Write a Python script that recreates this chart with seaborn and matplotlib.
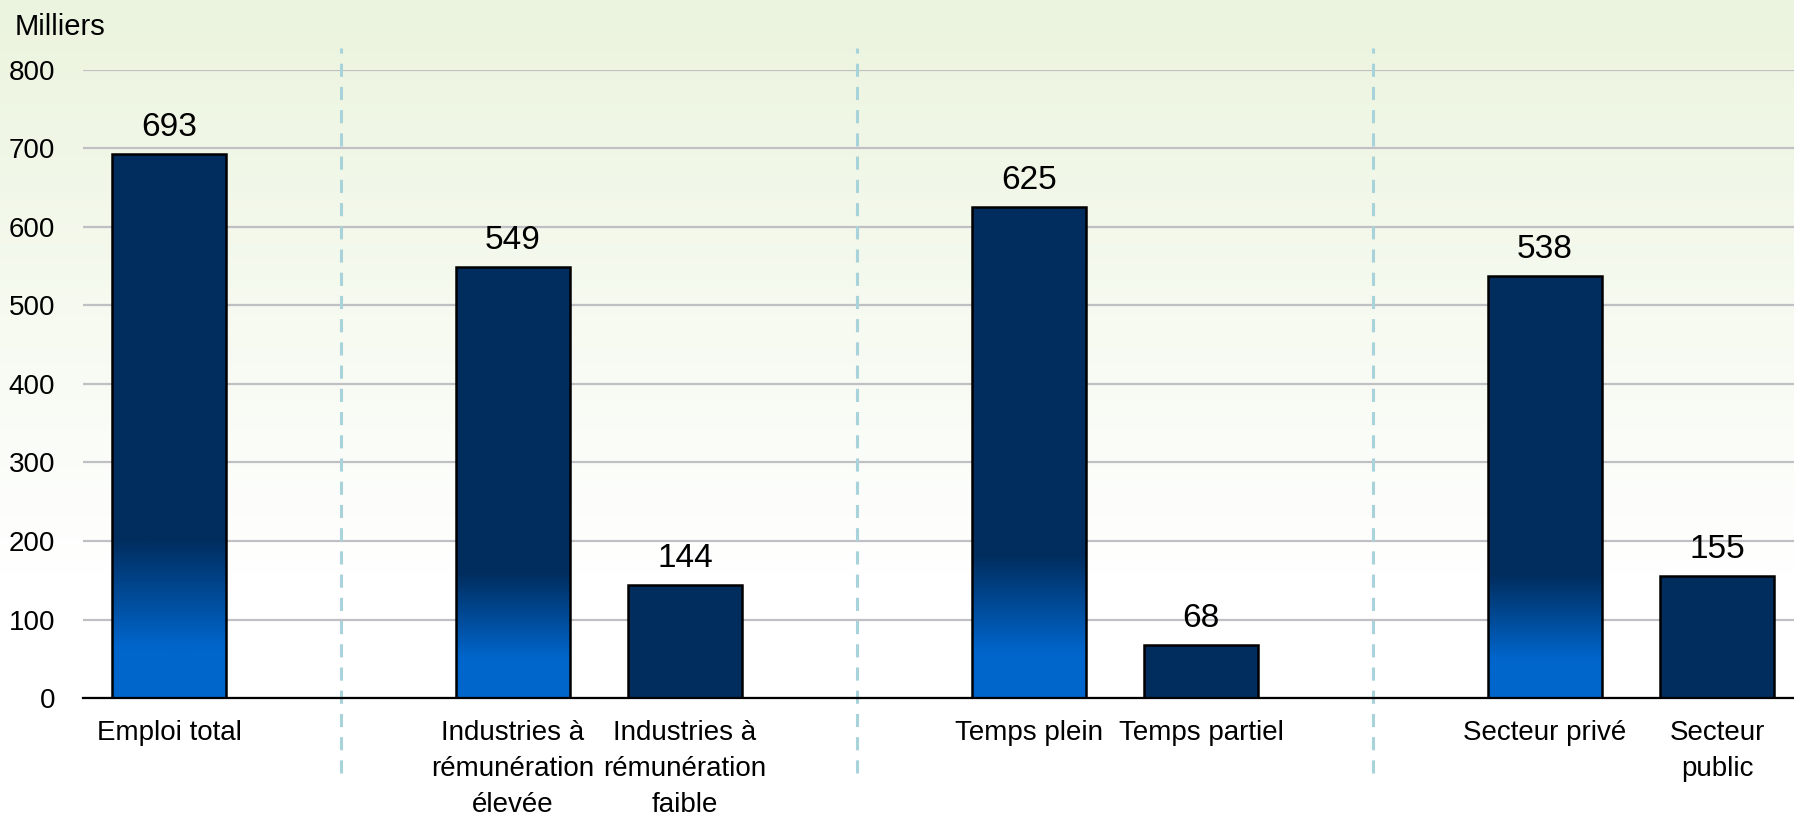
import numpy as np
import pandas as pd
import matplotlib
matplotlib.use("Agg")
import matplotlib.pyplot as plt
import seaborn as sns
from matplotlib.colors import LinearSegmentedColormap, to_rgb

# ---------------- data ----------------
categories = [
    "Emploi total",
    "Industries à\nrémunération\nélevée",
    "Industries à\nrémunération\nfaible",
    "Temps plein",
    "Temps partiel",
    "Secteur privé",
    "Secteur\npublic",
]
values = [693, 549, 144, 625, 68, 538, 155]
y_ticks = [0, 100, 200, 300, 400, 500, 600, 700, 800]
y_unit = "Milliers"

# group separators (empty category slots)
separators = ["sep1", "sep2", "sep3"]
order = [categories[0], separators[0], categories[1], categories[2], separators[1],
         categories[3], categories[4], separators[2], categories[5], categories[6]]

# style: which bars get the blue gradient at the bottom
gradient_flags = [True, True, False, True, False, True, False]

# ---------------- style ----------------
sns.set_theme(style="white")
plt.rcParams["font.family"] = ["Liberation Sans", "DejaVu Sans"]

NAVY = "#002D5E"
BLUE = "#0066CC"

fig = plt.figure(figsize=(17.94, 8.19), dpi=100)

# background gradient (light green top -> white)
bg = fig.add_axes([0, 0, 1, 1], zorder=-10)
top_c = np.array(to_rgb("#EBF4DE"))
white = np.array([1.0, 1.0, 1.0])
n = 400
t = np.linspace(0, 1, n)  # 0 = top, 1 = bottom
frac = np.clip(t / 0.7, 0, 1)
grad = (top_c[None, :] * (1 - frac[:, None]) + white[None, :] * frac[:, None])
bg.imshow(grad[:, None, :], aspect="auto", extent=[0, 1, 0, 1], origin="upper")
bg.set_axis_off()

ax = fig.add_axes([83 / 1794, 1 - 698 / 819, (1803 - 83) / 1794, (698 - 70) / 819])
ax.patch.set_alpha(0)

df = pd.DataFrame({"cat": categories, "val": values})
sns.barplot(data=df, x="cat", y="val", order=order, color=NAVY, saturation=1,
            width=0.667, edgecolor="black", linewidth=1.8, ax=ax)

ax.set_ylim(0, 800)
ax.set_xlim(-0.5, len(order) - 0.5)
ax.set_yticks(y_ticks)
ax.set_yticklabels([str(v) for v in y_ticks], fontsize=20, color="black")
ax.set_xticks(range(len(order)))
ax.set_xticklabels(["" if o in separators else o for o in order],
                   fontsize=20, color="black", linespacing=1.5)
ax.tick_params(axis="x", length=0, pad=16)
ax.tick_params(axis="y", length=0, pad=20)
ax.set_xlabel("")
ax.set_ylabel("")

ax.set_axisbelow(True)
ax.yaxis.grid(True, color="#C0C0C4", linewidth=1.6)
ax.xaxis.grid(False)
for s in ["top", "right", "left"]:
    ax.spines[s].set_visible(False)
ax.spines["bottom"].set_color("black")
ax.spines["bottom"].set_linewidth(1.6)
ax.spines["bottom"].set_zorder(3)

# gradient fill on selected bars
cmap = LinearSegmentedColormap.from_list(
    "bargrad", [(0.0, BLUE), (0.09, BLUE), (0.29, NAVY), (1.0, NAVY)])
patches = [p for p in ax.patches if p.get_height() > 0]
patches.sort(key=lambda p: p.get_x())
for p, flag in zip(patches, gradient_flags):
    if not flag:
        continue
    x0, w, h = p.get_x(), p.get_width(), p.get_height()
    arr = cmap(np.linspace(0, 1, 256))[:, None, :3]
    im = ax.imshow(arr, aspect="auto", origin="lower",
                   extent=[x0, x0 + w, 0, h], zorder=p.get_zorder() - 0.01,
                   interpolation="bilinear")
    im.set_clip_path(p)
    p.set_facecolor("none")

ax.set_xlim(-0.5, len(order) - 0.5)
ax.set_ylim(0, 800)

# value labels
for container in ax.containers:
    ax.bar_label(container, labels=[str(v) for v in values], padding=8,
                 fontsize=24, color="black")

# dashed separators
for s in separators:
    xi = order.index(s)
    ax.plot([xi, xi], [-96, 828], color="#A8D3DA", linewidth=2.2,
            dashes=(4.3, 3.3), clip_on=False, zorder=0.6)

fig.text(15 / 1794, 1 - 27 / 819, y_unit, fontsize=21, color="black",
         ha="left", va="center")

fig.savefig("out.png", dpi=100)
